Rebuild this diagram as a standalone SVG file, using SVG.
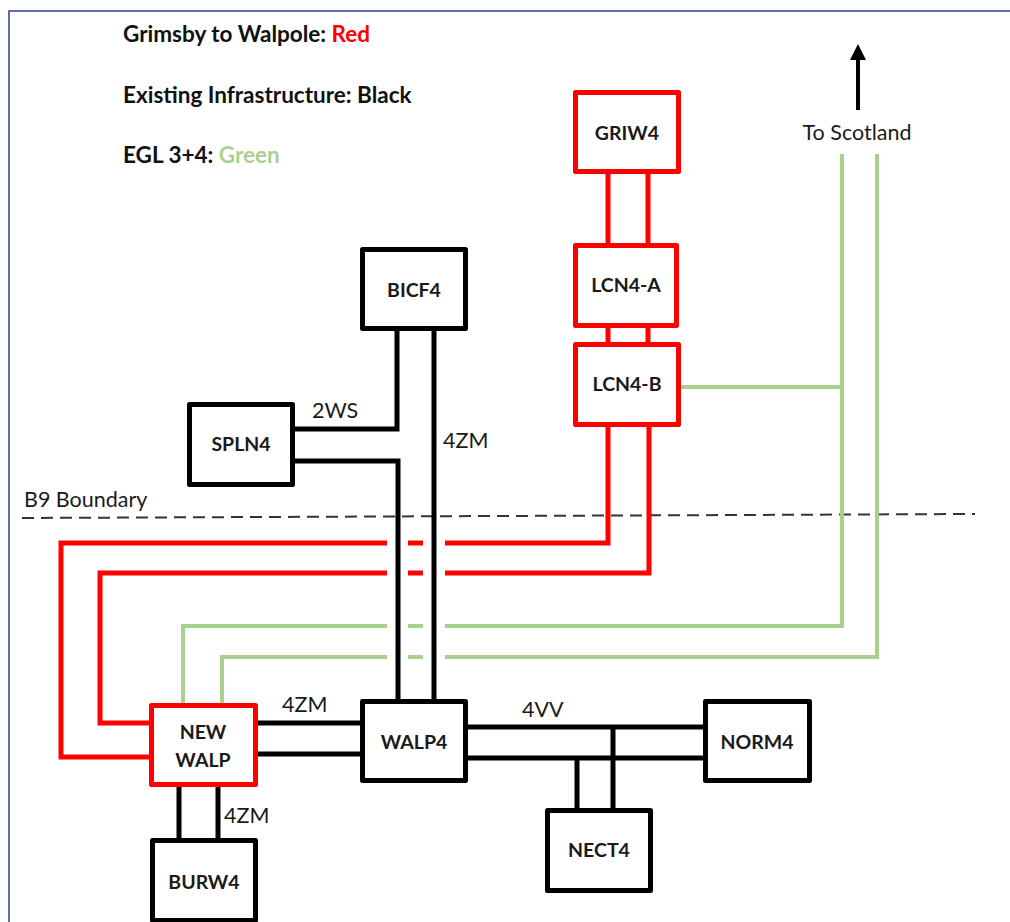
<svg xmlns="http://www.w3.org/2000/svg" width="1010" height="922" viewBox="0 0 1010 922">
<defs>
<style>
.box{fill:#fff;stroke-width:5;stroke-linejoin:round}
.blk{stroke:#000}
.redb{stroke:#ff0000}
.lbl{font-family:Lato,"Liberation Sans",sans-serif;font-weight:bold;font-size:19.5px;fill:#1a1a1a;text-anchor:middle}
.leg{font-family:Lato,"Liberation Sans",sans-serif;font-weight:bold;font-size:22.5px;fill:#111}
.elab{font-family:Lato,"Liberation Sans",sans-serif;font-size:21.5px;fill:#1a1a1a}
.k{fill:none;stroke:#000;stroke-width:5}
.r{fill:none;stroke:#ff0000;stroke-width:5}
.g{fill:none;stroke:#a9d18e;stroke-width:4}
</style>
<marker id="ah" markerWidth="4" markerHeight="4" refX="2" refY="2" orient="auto" markerUnits="strokeWidth">
<path d="M0,0 L4,2 L0,4 Z" fill="#000"/>
</marker>
</defs>
<rect x="0" y="0" width="1010" height="922" fill="#fff"/>
<path d="M9,922 V11 H1010" fill="none" stroke="#2b3ea0" stroke-width="1.5"/>

<g id="legend">
<text class="leg" x="123" y="42">Grimsby to Walpole: <tspan fill="#ff0000">Red</tspan></text>
<text class="leg" x="123" y="103">Existing Infrastructure: Black</text>
<text class="leg" x="123" y="163">EGL 3+4: <tspan fill="#a9d18e">Green</tspan></text>
</g>

<g id="boundary">
<line x1="22" y1="518" x2="975" y2="514" stroke="#333" stroke-width="2" stroke-dasharray="12 7"/>
<text class="elab" x="24" y="507">B9 Boundary</text>
</g>

<g id="scotland">
<line x1="858" y1="110" x2="858" y2="52" stroke="#000" stroke-width="4" marker-end="url(#ah)"/>
<text class="elab" x="857" y="140" text-anchor="middle">To Scotland</text>
</g>

<g id="connectors">
<!-- green -->
<path class="g" d="M681,387 H842"/>
<path class="g" d="M842,154 V626 H445"/>
<path class="g" d="M423,626 H408"/>
<path class="g" d="M387,626 H183 V705"/>
<path class="g" d="M877,154 V657 H445"/>
<path class="g" d="M423,657 H408"/>
<path class="g" d="M387,657 H222 V705"/>
<!-- red -->
<path class="r" d="M608,174 V243 M648,174 V243"/>
<path class="r" d="M608,328 V342 M648,328 V342"/>
<path class="r" d="M608,427 V543 H445"/>
<path class="r" d="M423,543 H408"/>
<path class="r" d="M387,543 H61 V757 H151"/>
<path class="r" d="M649,427 V573 H445"/>
<path class="r" d="M423,573 H408"/>
<path class="r" d="M387,573 H100 V723 H151"/>
<!-- black -->
<path class="k" d="M397,331 V429 H295"/>
<path class="k" d="M434,331 V699"/>
<path class="k" d="M295,461 H398 V699"/>
<path class="k" d="M258,723 H360 M258,754 H360"/>
<path class="k" d="M468,727 H703 M468,758 H703"/>
<path class="k" d="M577,758 V808 M613,727 V808"/>
<path class="k" d="M179,787 V838 M218,787 V838"/>
<text class="elab" x="312" y="418">2WS</text>
<text class="elab" x="443" y="448">4ZM</text>
<text class="elab" x="282" y="712">4ZM</text>
<text class="elab" x="522" y="717">4VV</text>
<text class="elab" x="224" y="823">4ZM</text>
</g>

<g id="GRIW4"><rect class="box redb" x="575.5" y="92.5" width="103" height="79"/><text class="lbl" x="627" y="140">GRIW4</text></g>
<g id="LCN4-A"><rect class="box redb" x="575.5" y="245.5" width="101" height="80"/><text class="lbl" x="626" y="292">LCN4-A</text></g>
<g id="LCN4-B"><rect class="box redb" x="575.5" y="344.5" width="103" height="80"/><text class="lbl" x="627" y="391">LCN4-B</text></g>
<g id="BICF4"><rect class="box blk" x="362.5" y="249.5" width="103" height="79"/><text class="lbl" x="414" y="297">BICF4</text></g>
<g id="SPLN4"><rect class="box blk" x="189.5" y="404.5" width="103" height="80"/><text class="lbl" x="241" y="451">SPLN4</text></g>
<g id="WALP4"><rect class="box blk" x="362.5" y="701.5" width="103" height="79"/><text class="lbl" x="414" y="749">WALP4</text></g>
<g id="NEW-WALP"><rect class="box redb" x="151.5" y="705.5" width="104" height="79"/><text class="lbl" x="203" y="739">NEW</text><text class="lbl" x="203" y="767">WALP</text></g>
<g id="NORM4"><rect class="box blk" x="705.5" y="701.5" width="104" height="79"/><text class="lbl" x="757" y="749">NORM4</text></g>
<g id="NECT4"><rect class="box blk" x="547.5" y="810.5" width="103" height="80"/><text class="lbl" x="599" y="857">NECT4</text></g>
<g id="BURW4"><rect class="box blk" x="152.5" y="840.5" width="103" height="80"/><text class="lbl" x="204" y="889">BURW4</text></g>
</svg>
